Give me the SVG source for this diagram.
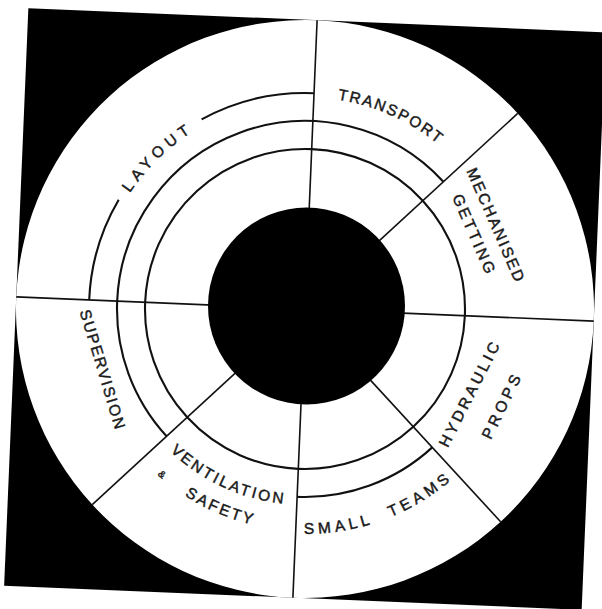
<svg xmlns="http://www.w3.org/2000/svg" width="602" height="609" viewBox="0 0 602 609">
  <style>
    .ring { fill: none; stroke: #111; stroke-width: 2.1; }
    .radial { stroke: #111; stroke-width: 1.6; }
    .lbl { font-family: "Liberation Sans", Arial, sans-serif; font-size: 15.5px; fill: #1a1a1a; stroke: #1a1a1a; stroke-width: 0.45; }
  </style>
  <defs>
    <path id="p-layout" d="M 97.04 279.77 A 210 210 0 0 1 264.93 102.86"/>
    <path id="p-transport" d="M 220.8 114.44 A 212 212 0 0 1 499.56 224.8"/>
    <path id="p-vent" d="M 124.25 384.8 A 196 196 0 0 0 380.8 489.75"/>
    <path id="p-safety" d="M 164.39 480.79 A 222 222 0 0 0 416 501.26"/>
    <path id="p-teams" d="M 220.35 517.47 A 225 225 0 0 0 513.47 393.65"/>
  </defs>
  <rect width="602" height="609" fill="#fff"/>
  <g transform="rotate(2.4 305 309)">
    <rect x="16" y="20" width="578" height="578" fill="#000"/>
    <circle cx="305" cy="309" r="289" fill="#fff"/>
    <g id="connectors">
      <line class="radial" x1="385" y1="309" x2="594" y2="309"/>
      <line class="radial" x1="361.57" y1="252.43" x2="509.35" y2="104.65"/>
      <line class="radial" x1="305" y1="229" x2="305" y2="20"/>
      <line class="radial" x1="225" y1="309" x2="16" y2="309"/>
      <line class="radial" x1="248.43" y1="365.57" x2="100.65" y2="513.35"/>
      <line class="radial" x1="305" y1="389" x2="305" y2="598"/>
      <line class="radial" x1="361.57" y1="365.57" x2="509.35" y2="513.35"/>
      <circle class="ring" cx="305" cy="309" r="160"/>
      <path class="ring" d="M 437.94 176.06 A 188 188 0 0 0 117 309 A 188 188 0 0 0 172.06 441.94"/>
      <path class="ring" d="M 305 497 A 188 188 0 0 0 437.94 441.94"/>
      <path class="ring" d="M 89 309 A 216 216 0 0 1 114.28 207.59"/>
      <path class="ring" d="M 193.75 123.85 A 216 216 0 0 1 305 93"/>
    </g>
    <g id="layout">
      <text class="lbl" letter-spacing="5"><textPath href="#p-layout" startOffset="50%" text-anchor="middle">LAYOUT</textPath></text>
    </g>
    <g id="transport">
      <text class="lbl" letter-spacing="1.9"><textPath href="#p-transport" startOffset="50%" text-anchor="middle">TRANSPORT</textPath></text>
    </g>
    <g id="mechanised-getting">
      <text class="lbl" letter-spacing="2.1" text-anchor="middle" transform="rotate(-26 305 309) translate(513.7 309) rotate(90)" x="0" y="5.5">MECHANISED</text>
      <text class="lbl" letter-spacing="2.7" text-anchor="middle" transform="rotate(-26 305 309) translate(490 309) rotate(90)" x="0" y="5.5">GETTING</text>
    </g>
    <g id="hydraulic-props">
      <text class="lbl" letter-spacing="3.2" text-anchor="middle" transform="rotate(24.6 305 309) translate(490 309) rotate(-90)" x="0" y="5.5">HYDRAULIC</text>
      <text class="lbl" letter-spacing="3.8" text-anchor="middle" transform="rotate(23.6 305 309) translate(524 309) rotate(-90)" x="0" y="5.5">PROPS</text>
    </g>
    <g id="small-teams">
      <text class="lbl" letter-spacing="4.1" word-spacing="10"><textPath href="#p-teams" startOffset="50%" text-anchor="middle">SMALL TEAMS</textPath></text>
    </g>
    <g id="ventilation-safety">
      <text class="lbl" letter-spacing="2.6"><textPath href="#p-vent" startOffset="50%" text-anchor="middle">VENTILATION</textPath></text>
      <text class="lbl"><textPath href="#p-safety"><tspan font-size="10">&amp;</tspan><tspan dx="27.5" letter-spacing="2.6">SAFETY</tspan></textPath></text>
    </g>
    <g id="supervision">
      <text class="lbl" letter-spacing="1.8" text-anchor="middle" transform="rotate(-19.2 305 309) translate(94 309) rotate(90)" x="0" y="5.5">SUPERVISION</text>
    </g>
  </g>
  <circle cx="306.5" cy="306" r="98.5" fill="#000"/>
</svg>
